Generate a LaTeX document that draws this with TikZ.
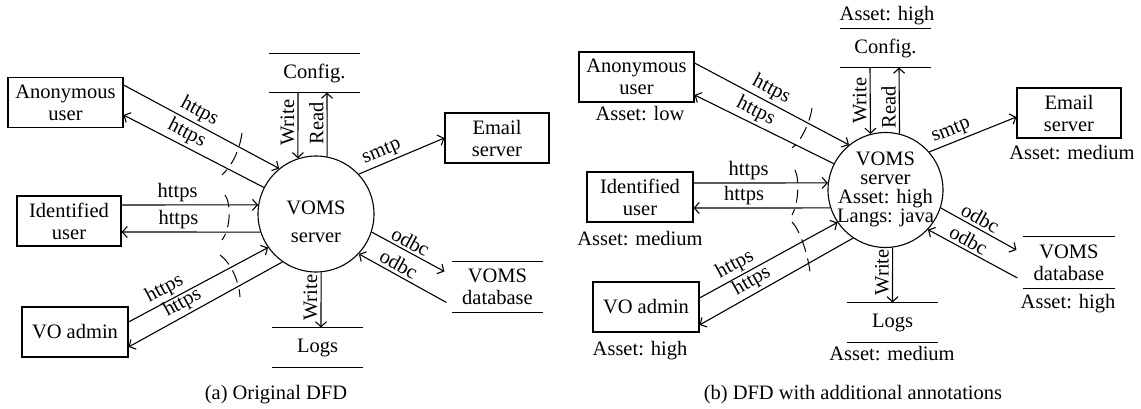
\documentclass[tikz,border=0pt]{standalone}
\usepackage{fontspec}
\setmainfont{Liberation Serif}
\usetikzlibrary{arrows.meta}
\begin{document}
\begin{tikzpicture}[x=1pt,y=-1pt,
  font=\fontsize{20.5}{22}\selectfont,
  line width=1.1pt,
  box/.style={draw, rectangle, align=center, minimum height=50, inner sep=0},
  store/.style={align=center, inner sep=0},
  proc/.style={draw, circle, minimum size=116, inner sep=0},
  flow/.style={-{Straight Barb[length=5pt,width=11pt]}},
  lbl/.style={sloped, above, inner sep=2.5pt},
  vlbl/.style={rotate=90, anchor=south, inner sep=3pt},
  note/.style={anchor=base, inner sep=0},
  boundary/.style={line width=1pt, dash pattern=on 13pt off 7pt},
]
\useasboundingbox (0,0) rectangle (1141,409);

% ---------------- (a) original data flow diagram ----------------
\node[box, minimum width=115] (anonA) at (65.5,102.5) {Anonymous\\user};
\node[box, minimum width=104] (identA) at (69,221) {Identified\\user};
\node[box, minimum width=106] (voA) at (75,332) {VO admin};
\node[proc] (vomsA) at (316,214) {};
\node[align=center, inner sep=0, font=\fontsize{20.5}{28}\selectfont] (vomsAtext) at (316,222) {VOMS\\server};
\node[store, minimum width=89, minimum height=38] (cfgA) at (314.5,73) {Config.};
\node[box, minimum width=104] (emailA) at (497,138) {Email\\server};
\node[store, minimum width=89, minimum height=50] (dbA) at (497.5,287) {VOMS\\database};
\node[store, minimum width=89, minimum height=39] (logsA) at (317.5,347.5) {Logs};

\draw[flow] ([yshift=17.5pt]anonA.east) -- node[lbl, pos=0.45] {https} (vomsA.129.7);
\draw[flow] (vomsA.153.4) -- node[lbl, pos=0.59] {https} ([yshift=-12.5pt]anonA.east);
\draw[flow] ([yshift=16pt]identA.east) -- node[lbl, pos=0.41] {https} (vomsA.171.1);
\draw[flow] (vomsA.198.1) -- node[lbl, pos=0.59] {https} ([yshift=-11pt]identA.east);
\draw[flow] ([yshift=10pt]voA.east) -- node[lbl, pos=0.3] {https} (vomsA.215.3);
\draw[flow] (vomsA.235.5) -- node[lbl, pos=0.61] {https} ([yshift=-15pt]voA.east);
\draw[flow] ([xshift=-16.5pt]cfgA.south) -- node[vlbl, pos=0.46] {Write} (vomsA.108);
\draw[flow] (vomsA.79) -- node[vlbl, pos=0.52] {Read} ([xshift=12.5pt]cfgA.south);
\draw[flow] (vomsA.43) -- node[lbl, pos=0.32] {smtp} (emailA.west);
\draw[flow] (vomsA.342.5) -- node[lbl, pos=0.47] {odbc} ([xshift=-8pt,yshift=15.5pt]dbA.west);
\draw[flow] ([xshift=-6pt,yshift=-15.5pt]dbA.west) -- node[lbl, pos=0.6] {odbc} (vomsA.317.7);
\draw[flow] (vomsA.275) -- node[vlbl, pos=0.46] {Write} ([xshift=3.5pt]logsA.north);

% trust boundary
\draw[boundary] (242,133) .. controls (240,148) and (233,165) .. (222,175);
\draw[boundary] (225,195) .. controls (231,203) and (231,228) .. (222,240);
\draw[boundary] (220,255) .. controls (230,262) and (239,280) .. (240,297);

\node[note] (capA) at (276,399) {(a)\hspace{5pt}Original DFD};

% ---------------- (b) annotated data flow diagram ----------------
\node[box, minimum width=115] (anonB) at (636.5,77) {Anonymous\\user};
\node[note] (anonBasset) at (640,121) {Asset: low};
\node[box, minimum width=106] (identB) at (640,197) {Identified\\user};
\node[note] (identBasset) at (640,245) {Asset: medium};
\node[box, minimum width=106] (voB) at (646,307) {VO admin};
\node[note] (voBasset) at (640,355) {Asset: high};
\node[proc, minimum size=115] (vomsB) at (885.5,190) {};
\node[align=center, inner sep=0, font=\fontsize{20.5}{19}\selectfont] (vomsBtext) at (885.5,189) {VOMS\\server\\Asset: high\\Langs: java};
\node[store, minimum width=89, minimum height=38] (cfgB) at (885.5,48) {Config.};
\node[note] (cfgBasset) at (887,21) {Asset: high};
\node[box, minimum width=104] (emailB) at (1069,113) {Email\\server};
\node[note] (emailBasset) at (1072,160) {Asset: medium};
\node[store, minimum width=90, minimum height=51] (dbB) at (1069,262.5) {VOMS\\database};
\node[note] (dbBasset) at (1068,308) {Asset: high};
\node[store, minimum width=89, minimum height=39] (logsB) at (892.5,322.5) {Logs};
\node[note] (logsBasset) at (892,360) {Asset: medium};

\draw[flow] ([yshift=14pt]anonB.east) -- node[lbl, pos=0.46] {https} (vomsB.129.7);
\draw[flow] (vomsB.153) -- node[lbl, pos=0.6] {https} ([yshift=-18pt]anonB.east);
\draw[flow] ([yshift=14pt]identB.east) -- node[lbl, pos=0.41] {https} (vomsB.173);
\draw[flow] (vomsB.198.2) -- node[lbl, pos=0.63] {https} ([yshift=-11pt]identB.east);
\draw[flow] ([yshift=9pt]voB.east) -- node[lbl, pos=0.3] {https} (vomsB.214.8);
\draw[flow] (vomsB.236.9) -- node[lbl, pos=0.62] {https} ([yshift=-18pt]voB.east);
\draw[flow] ([xshift=-15.5pt]cfgB.south) -- node[vlbl, pos=0.5] {Write} (vomsB.105.6);
\draw[flow] (vomsB.76.4) -- node[vlbl, pos=0.4] {Read} ([xshift=13.5pt]cfgB.south);
\draw[flow] (vomsB.41.4) -- node[lbl, pos=0.3] {smtp} ([yshift=-4pt]emailB.west);
\draw[flow] (vomsB.342.6) -- node[lbl, pos=0.46] {odbc} ([xshift=-7pt,yshift=12.5pt]dbB.west);
\draw[flow] ([xshift=-6pt,yshift=-15.5pt]dbB.west) -- node[lbl, pos=0.6] {odbc} (vomsB.317.9);
\draw[flow] (vomsB.277) -- node[vlbl, pos=0.45] {Write} (logsB.north);

% trust boundary
\draw[boundary] (812,108) .. controls (810,122) and (802,140) .. (792,148);
\draw[boundary] (795,170) .. controls (800,180) and (798,205) .. (792,215);
\draw[boundary] (792,222) .. controls (800,230) and (808,255) .. (810,272);

\node[note] (capB) at (853,399) {(b)\hspace{5pt}DFD with additional annotations};

% data store rules above and below
\foreach \s in {cfgA,dbA,logsA,cfgB,dbB,logsB}
  \draw (\s.north west) -- (\s.north east) (\s.south west) -- (\s.south east);
\end{tikzpicture}
\end{document}
